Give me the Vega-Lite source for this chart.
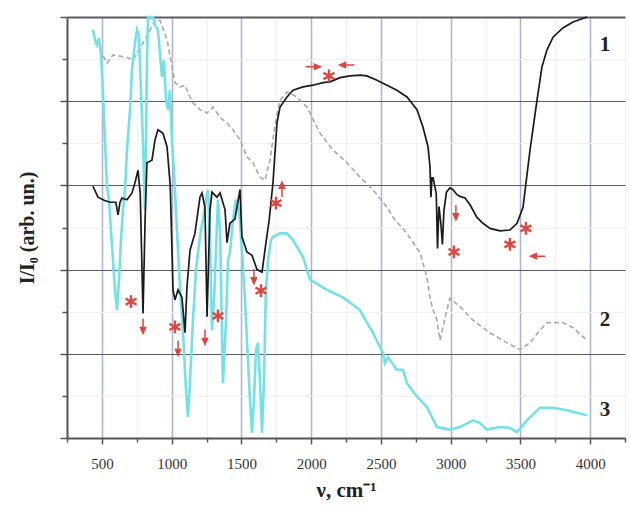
{
  "$schema": "https://vega.github.io/schema/vega-lite/v6.json",
  "width": 558,
  "height": 421,
  "autosize": "none",
  "padding": {"left": 67, "top": 17, "right": 5, "bottom": 75},
  "background": "white",
  "config": {"view": {"stroke": null}},
  "datasets": {
    "s1": [
      {"x": 436, "y": 2.99}, {"x": 472, "y": 2.86}, {"x": 520, "y": 2.82}, {"x": 558, "y": 2.8}, {"x": 600, "y": 2.8},
      {"x": 616, "y": 2.65}, {"x": 630, "y": 2.8}, {"x": 644, "y": 2.85}, {"x": 680, "y": 2.83}, {"x": 716, "y": 2.91},
      {"x": 740, "y": 3.05}, {"x": 759, "y": 3.18}, {"x": 775, "y": 2.9}, {"x": 795, "y": 1.48}, {"x": 810, "y": 2.6},
      {"x": 823, "y": 3.27}, {"x": 859, "y": 3.3}, {"x": 881, "y": 3.54}, {"x": 902, "y": 3.66}, {"x": 920, "y": 3.64},
      {"x": 938, "y": 3.62}, {"x": 967, "y": 3.46}, {"x": 990, "y": 3.0}, {"x": 1003, "y": 2.2}, {"x": 1010, "y": 1.76},
      {"x": 1024, "y": 1.64}, {"x": 1046, "y": 1.76}, {"x": 1074, "y": 1.67}, {"x": 1096, "y": 1.25}, {"x": 1110, "y": 1.8},
      {"x": 1132, "y": 2.23}, {"x": 1167, "y": 2.43}, {"x": 1203, "y": 2.86}, {"x": 1218, "y": 2.91}, {"x": 1239, "y": 2.74},
      {"x": 1254, "y": 1.44}, {"x": 1275, "y": 2.7}, {"x": 1289, "y": 2.92}, {"x": 1325, "y": 2.86}, {"x": 1347, "y": 2.91},
      {"x": 1383, "y": 2.71}, {"x": 1397, "y": 2.32}, {"x": 1418, "y": 2.55}, {"x": 1454, "y": 2.6}, {"x": 1490, "y": 2.95},
      {"x": 1504, "y": 2.39}, {"x": 1540, "y": 2.21}, {"x": 1576, "y": 2.17}, {"x": 1612, "y": 2.0}, {"x": 1648, "y": 1.97},
      {"x": 1669, "y": 2.23}, {"x": 1700, "y": 2.6}, {"x": 1727, "y": 3.04}, {"x": 1755, "y": 3.74}, {"x": 1777, "y": 3.93},
      {"x": 1827, "y": 4.05}, {"x": 1870, "y": 4.13}, {"x": 1942, "y": 4.17}, {"x": 2013, "y": 4.19}, {"x": 2085, "y": 4.22},
      {"x": 2135, "y": 4.23}, {"x": 2207, "y": 4.28}, {"x": 2279, "y": 4.3}, {"x": 2350, "y": 4.31}, {"x": 2400, "y": 4.3},
      {"x": 2472, "y": 4.25}, {"x": 2544, "y": 4.19}, {"x": 2615, "y": 4.13}, {"x": 2687, "y": 4.05}, {"x": 2759, "y": 3.9},
      {"x": 2802, "y": 3.69}, {"x": 2838, "y": 3.46}, {"x": 2852, "y": 3.22}, {"x": 2859, "y": 2.86}, {"x": 2866, "y": 3.09},
      {"x": 2874, "y": 3.09}, {"x": 2888, "y": 2.98}, {"x": 2897, "y": 2.9}, {"x": 2906, "y": 2.25}, {"x": 2916, "y": 2.75},
      {"x": 2930, "y": 2.55}, {"x": 2941, "y": 2.3}, {"x": 2952, "y": 2.7}, {"x": 2970, "y": 2.92}, {"x": 2995, "y": 2.97},
      {"x": 3017, "y": 2.95}, {"x": 3046, "y": 2.89}, {"x": 3067, "y": 2.87}, {"x": 3103, "y": 2.85}, {"x": 3139, "y": 2.77},
      {"x": 3189, "y": 2.62}, {"x": 3232, "y": 2.55}, {"x": 3282, "y": 2.49}, {"x": 3354, "y": 2.46}, {"x": 3425, "y": 2.47},
      {"x": 3476, "y": 2.55}, {"x": 3519, "y": 2.74}, {"x": 3569, "y": 3.42}, {"x": 3619, "y": 4.01}, {"x": 3655, "y": 4.41},
      {"x": 3691, "y": 4.61}, {"x": 3734, "y": 4.76}, {"x": 3805, "y": 4.87}, {"x": 3877, "y": 4.94}, {"x": 3978, "y": 5.0}
    ],
    "s2": [
      {"x": 451, "y": 4.7}, {"x": 487, "y": 4.61}, {"x": 537, "y": 4.45}, {"x": 580, "y": 4.55}, {"x": 680, "y": 4.52},
      {"x": 723, "y": 4.49}, {"x": 809, "y": 4.73}, {"x": 881, "y": 4.96}, {"x": 917, "y": 4.96}, {"x": 967, "y": 4.73},
      {"x": 1003, "y": 4.41}, {"x": 1024, "y": 4.22}, {"x": 1060, "y": 4.17}, {"x": 1096, "y": 4.19}, {"x": 1117, "y": 4.1},
      {"x": 1153, "y": 3.98}, {"x": 1203, "y": 3.9}, {"x": 1254, "y": 3.86}, {"x": 1297, "y": 3.93}, {"x": 1347, "y": 3.81},
      {"x": 1397, "y": 3.74}, {"x": 1440, "y": 3.66}, {"x": 1490, "y": 3.54}, {"x": 1540, "y": 3.34}, {"x": 1583, "y": 3.27},
      {"x": 1633, "y": 3.1}, {"x": 1669, "y": 3.06}, {"x": 1705, "y": 3.3}, {"x": 1741, "y": 3.72}, {"x": 1777, "y": 4.01},
      {"x": 1827, "y": 4.11}, {"x": 1898, "y": 4.05}, {"x": 1970, "y": 3.93}, {"x": 2006, "y": 3.81}, {"x": 2064, "y": 3.62},
      {"x": 2157, "y": 3.42}, {"x": 2257, "y": 3.27}, {"x": 2350, "y": 3.1}, {"x": 2443, "y": 2.95}, {"x": 2544, "y": 2.74},
      {"x": 2587, "y": 2.62}, {"x": 2687, "y": 2.43}, {"x": 2780, "y": 2.2}, {"x": 2830, "y": 1.91}, {"x": 2852, "y": 1.67},
      {"x": 2874, "y": 1.52}, {"x": 2902, "y": 1.4}, {"x": 2924, "y": 1.16}, {"x": 2960, "y": 1.43}, {"x": 2995, "y": 1.66},
      {"x": 3067, "y": 1.56}, {"x": 3160, "y": 1.4}, {"x": 3282, "y": 1.25}, {"x": 3404, "y": 1.13}, {"x": 3497, "y": 1.05},
      {"x": 3569, "y": 1.13}, {"x": 3640, "y": 1.28}, {"x": 3691, "y": 1.37}, {"x": 3805, "y": 1.37}, {"x": 3877, "y": 1.31},
      {"x": 3978, "y": 1.16}
    ],
    "s3": [
      {"x": 436, "y": 4.85}, {"x": 451, "y": 4.73}, {"x": 465, "y": 4.67}, {"x": 479, "y": 4.75}, {"x": 494, "y": 4.55},
      {"x": 508, "y": 4.1}, {"x": 522, "y": 3.54}, {"x": 537, "y": 2.98}, {"x": 551, "y": 2.83}, {"x": 565, "y": 2.47},
      {"x": 580, "y": 2.11}, {"x": 594, "y": 1.76}, {"x": 608, "y": 1.52}, {"x": 623, "y": 1.88}, {"x": 637, "y": 2.35},
      {"x": 651, "y": 2.71}, {"x": 666, "y": 2.95}, {"x": 680, "y": 3.42}, {"x": 702, "y": 3.9}, {"x": 716, "y": 4.37},
      {"x": 737, "y": 4.69}, {"x": 752, "y": 4.85}, {"x": 766, "y": 4.79}, {"x": 780, "y": 4.13}, {"x": 795, "y": 3.5},
      {"x": 809, "y": 2.71}, {"x": 816, "y": 3.42}, {"x": 823, "y": 4.49}, {"x": 831, "y": 5.0}, {"x": 852, "y": 5.0},
      {"x": 866, "y": 5.0}, {"x": 881, "y": 4.9}, {"x": 902, "y": 4.85}, {"x": 917, "y": 4.55}, {"x": 931, "y": 4.29},
      {"x": 945, "y": 4.49}, {"x": 960, "y": 4.01}, {"x": 974, "y": 3.9}, {"x": 988, "y": 4.13}, {"x": 1003, "y": 3.5},
      {"x": 1017, "y": 3.18}, {"x": 1038, "y": 2.47}, {"x": 1060, "y": 1.79}, {"x": 1081, "y": 1.28}, {"x": 1103, "y": 0.57},
      {"x": 1117, "y": 0.25}, {"x": 1132, "y": 0.69}, {"x": 1153, "y": 1.4}, {"x": 1175, "y": 2.0}, {"x": 1189, "y": 2.2},
      {"x": 1210, "y": 2.47}, {"x": 1225, "y": 2.59}, {"x": 1246, "y": 2.83}, {"x": 1261, "y": 2.95}, {"x": 1275, "y": 2.35},
      {"x": 1289, "y": 1.28}, {"x": 1304, "y": 1.64}, {"x": 1318, "y": 2.23}, {"x": 1332, "y": 2.83}, {"x": 1347, "y": 2.47},
      {"x": 1368, "y": 0.65}, {"x": 1390, "y": 1.4}, {"x": 1404, "y": 2.11}, {"x": 1418, "y": 2.2}, {"x": 1440, "y": 2.59},
      {"x": 1461, "y": 2.83}, {"x": 1483, "y": 2.71}, {"x": 1504, "y": 2.23}, {"x": 1526, "y": 1.64}, {"x": 1547, "y": 0.93},
      {"x": 1562, "y": 0.45}, {"x": 1576, "y": 0.06}, {"x": 1590, "y": 0.45}, {"x": 1605, "y": 1.05}, {"x": 1619, "y": 1.13},
      {"x": 1633, "y": 0.69}, {"x": 1648, "y": 0.06}, {"x": 1662, "y": 0.69}, {"x": 1676, "y": 1.76}, {"x": 1691, "y": 2.11},
      {"x": 1712, "y": 2.35}, {"x": 1727, "y": 2.39}, {"x": 1777, "y": 2.43}, {"x": 1827, "y": 2.43}, {"x": 1870, "y": 2.35},
      {"x": 1942, "y": 2.15}, {"x": 1992, "y": 1.88}, {"x": 2114, "y": 1.76}, {"x": 2228, "y": 1.67}, {"x": 2350, "y": 1.52},
      {"x": 2443, "y": 1.25}, {"x": 2515, "y": 1.01}, {"x": 2529, "y": 0.89}, {"x": 2551, "y": 0.96}, {"x": 2615, "y": 0.81},
      {"x": 2658, "y": 0.81}, {"x": 2687, "y": 0.65}, {"x": 2759, "y": 0.49}, {"x": 2830, "y": 0.37}, {"x": 2902, "y": 0.13},
      {"x": 2995, "y": 0.1}, {"x": 3067, "y": 0.13}, {"x": 3160, "y": 0.21}, {"x": 3210, "y": 0.18}, {"x": 3260, "y": 0.1},
      {"x": 3354, "y": 0.13}, {"x": 3425, "y": 0.12}, {"x": 3476, "y": 0.07}, {"x": 3547, "y": 0.21}, {"x": 3640, "y": 0.36},
      {"x": 3734, "y": 0.36}, {"x": 3834, "y": 0.33}, {"x": 3978, "y": 0.27}
    ],
    "stars": [
      {"x": 709, "y": 1.62}, {"x": 1024, "y": 1.32}, {"x": 1332, "y": 1.45}, {"x": 1641, "y": 1.75},
      {"x": 1748, "y": 2.79}, {"x": 2128, "y": 4.3}, {"x": 3024, "y": 2.21}, {"x": 3425, "y": 2.3}, {"x": 3540, "y": 2.49}
    ],
    "arrows": [
      {"x": 795, "y": 1.33, "dir": "down"}, {"x": 1046, "y": 1.07, "dir": "down"}, {"x": 1239, "y": 1.2, "dir": "down"},
      {"x": 1590, "y": 1.92, "dir": "down"}, {"x": 3038, "y": 2.68, "dir": "down"}, {"x": 1791, "y": 2.95, "dir": "up"},
      {"x": 2013, "y": 4.41, "dir": "right"}, {"x": 2257, "y": 4.43, "dir": "left"}, {"x": 3626, "y": 2.16, "dir": "left"}
    ],
    "labels": [
      {"x": 4106, "y": 4.67, "t": "1"}, {"x": 4106, "y": 1.4, "t": "2"}, {"x": 4106, "y": 0.33, "t": "3"}
    ]
  },
  "encoding": {
    "x": {
      "field": "x", "type": "quantitative",
      "scale": {"domain": [250, 4250], "nice": false, "zero": false},
      "axis": {
        "title": "ν, cm⁻¹",
        "values": [250, 500, 750, 1000, 1250, 1500, 1750, 2000, 2250, 2500, 2750, 3000, 3250, 3500, 3750, 4000, 4250],
        "format": "d",
        "labelExpr": "(datum.value % 500 === 0 && datum.value >= 500 && datum.value <= 4000) ? datum.label : ''",
        "labelFont": "Liberation Serif", "labelFontSize": 15, "labelColor": "#333", "labelPadding": 12,
        "titleFont": "Liberation Serif", "titleFontSize": 21, "titleFontWeight": "bold", "titleColor": "#222", "titlePadding": 8,
        "domainColor": "#555", "domainWidth": 2,
        "tickColor": "#555", "tickWidth": 1.5,
        "tickSize": {"condition": {"test": "datum.value % 500 === 0", "value": 6}, "value": 4},
        "grid": true,
        "gridColor": {"condition": {"test": "datum.value % 500 === 0", "value": "#aeb0d8"}, "value": "#f1f1f4"},
        "gridWidth": {"condition": {"test": "datum.value % 500 === 0", "value": 1.5}, "value": 1}
      }
    },
    "y": {
      "field": "y", "type": "quantitative",
      "scale": {"domain": [0, 5], "nice": false, "zero": false},
      "axis": {
        "title": "I/I₀ (arb. un.)",
        "values": [0, 0.5, 1, 1.5, 2, 2.5, 3, 3.5, 4, 4.5, 5],
        "labels": false,
        "titleFont": "Liberation Serif", "titleFontSize": 20, "titleFontWeight": "bold", "titleColor": "#222", "titlePadding": 22,
        "domainColor": "#555", "domainWidth": 2,
        "tickColor": "#555", "tickWidth": 1.5,
        "tickSize": {"condition": {"test": "datum.value % 1 === 0", "value": 7}, "value": 5},
        "grid": true,
        "gridColor": {"condition": {"test": "datum.value % 1 === 0", "value": "#5a5a66"}, "value": "#f1f1f4"},
        "gridWidth": {"condition": {"test": "datum.value === 5", "value": 2}, "value": 1}
      }
    }
  },
  "layer": [
    {"data": {"name": "s2"}, "mark": {"type": "line", "color": "#a9a9a9", "strokeWidth": 1.6, "strokeDash": [5, 3]}},
    {"data": {"name": "s3"}, "mark": {"type": "line", "color": "#72e2e8", "strokeWidth": 2.6}},
    {"data": {"name": "s1"}, "mark": {"type": "line", "color": "#1a1a1a", "strokeWidth": 1.7}},
    {"data": {"name": "stars"}, "mark": {"type": "point", "shape": "M0,-1L0,1M-0.866,-0.5L0.866,0.5M-0.866,0.5L0.866,-0.5", "filled": false, "stroke": "#e2453c", "strokeWidth": 2.4, "size": 160, "opacity": 1}},
    {"data": {"name": "arrows"}, "mark": {"type": "point", "filled": true, "color": "#e2453c", "stroke": "#e2453c", "strokeWidth": 1.5, "size": 220, "opacity": 1},
     "encoding": {"shape": {"field": "dir", "type": "nominal", "legend": null,
       "scale": {"domain": ["down", "up", "left", "right"],
                 "range": ["M0,-1L0,0.4M-0.35,0.2L0,1L0.35,0.2Z", "M0,1L0,-0.4M-0.35,-0.2L0,-1L0.35,-0.2Z", "M1,0L-0.4,0M-0.2,-0.35L-1,0L-0.2,0.35Z", "M-1,0L0.4,0M0.2,-0.35L1,0L0.2,0.35Z"]}}}},
    {"data": {"name": "labels"}, "mark": {"type": "text", "font": "Liberation Serif", "fontSize": 21, "fontWeight": "bold", "color": "#222", "baseline": "middle", "align": "center"},
     "encoding": {"text": {"field": "t"}}}
  ]
}
